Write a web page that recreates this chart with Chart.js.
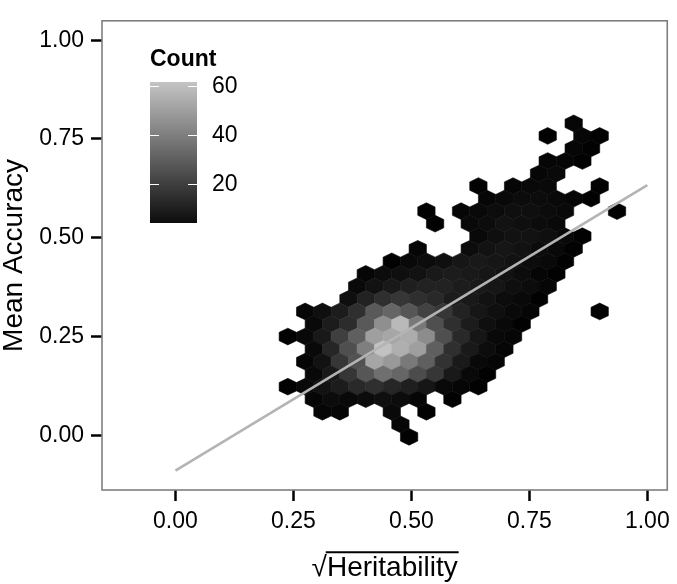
<!DOCTYPE html>
<html><head><meta charset="utf-8">
<script src="https://cdn.jsdelivr.net/npm/chart.js@4/dist/chart.umd.min.js"></script>
<style>html,body{margin:0;padding:0;background:#fff}</style>
</head><body>
<canvas id="c" width="677" height="584" style="width:677px;height:584px;display:block"></canvas>
<script>
// ---- data ----
const xTicks = [0, 0.25, 0.5, 0.75, 1];
const yTicks = [0, 0.25, 0.5, 0.75, 1];
const fitX = [0, 1];
const fitY = [-0.089, 0.633];
const legendTicks = [20, 40, 60];
const countRange = [4, 61.5];
// hex lattice (data units): bin spacing and the centre of bin (row 0, col 0)
const hexWidth = 0.03672, hexHeight = 0.03173;
const hexOriginX = 0.8624, hexOriginY = 0.7577;
// [row, first column, counts per column (0 = empty)]
const hexRows = [
 [-1, 0, [2]],
 [0, -2, [1,0,2,1]],
 [1, 0, [2,1]],
 [2, -2, [2,2,1]],
 [3, -2, [2,3]],
 [4, -6, [1,0,2,3,3,0,0,1]],
 [5, -5, [2,3,4,4,3,2,1]],
 [6, -9, [1,0,2,3,4,5,5,4,3,0,0,1]],
 [7, -8, [1,0,3,4,6,5,4,3]],
 [8, -6, [3,5,6,6,5,3,1]],
 [9, -9, [2,0,0,4,6,7,6,4,3,1]],
 [10, -11, [1,3,4,5,7,8,7,6,4,3,1]],
 [11, -12, [2,4,5,6,8,9,8,7,6,4,2,1]],
 [12, -13, [3,6,8,10,11,11,9,8,7,5,4,2]],
 [13, -13, [5,11,15,17,15,13,9,8,6,4,3,1]],
 [14, -16, [2,5,9,15,28,32,27,21,17,11,7,5,3,2,0,0,0,1]],
 [15, -15, [3,9,14,28,45,58,38,25,15,9,5,3,1]],
 [16, -17, [1,3,8,20,30,50,52,54,44,25,13,7,3,2]],
 [17, -15, [3,12,25,40,61,55,50,30,15,8,4,2]],
 [18, -16, [2,6,17,26,52,48,38,30,16,8,3,2]],
 [19, -15, [3,8,17,27,35,32,24,17,8,3,1]],
 [20, -17, [1,3,6,9,13,15,12,10,7,3,2,1]],
 [21, -15, [2,4,3,4,5,4,2,0,1]],
 [22, -15, [2,2,0,0,3,0,1]],
 [23, -10, [2]],
 [24, -10, [1]]
];

const hexX = [], hexY = [], hexCount = [];
hexRows.forEach(([j, i0, counts]) => counts.forEach((c, k) => {
  if (!c) return;
  const i = i0 + k;
  hexX.push(hexOriginX + i * hexWidth - (j % 2 ? hexWidth / 2 : 0));
  hexY.push(hexOriginY - j * hexHeight);
  hexCount.push(c);
}));

function countColor(c) {
  const t = (c - countRange[0]) / (countRange[1] - countRange[0]);
  let v = Math.round(12 + t * (196 - 12));
  v = Math.max(0, Math.min(255, v));
  return `rgb(${v},${v},${v})`;
}

const FONT = "'Liberation Sans', Arial, Helvetica, sans-serif";

const hexPlugin = {
  id: 'hex',
  beforeDatasetsDraw(chart) {
    const {ctx, scales: {x, y}} = chart;
    const meta = chart.getDatasetMeta(0);
    const hw = Math.abs(x.getPixelForValue(hexWidth) - x.getPixelForValue(0)) / 2;
    const r = Math.abs(y.getPixelForValue(0) - y.getPixelForValue(hexHeight)) * 2 / 3;
    ctx.save();
    ctx.lineWidth = 0.6;
    meta.data.forEach((el, i) => {
      const cx = el.x, cy = el.y;
      ctx.beginPath();
      ctx.moveTo(cx, cy - r);
      ctx.lineTo(cx + hw, cy - r / 2);
      ctx.lineTo(cx + hw, cy + r / 2);
      ctx.lineTo(cx, cy + r);
      ctx.lineTo(cx - hw, cy + r / 2);
      ctx.lineTo(cx - hw, cy - r / 2);
      ctx.closePath();
      const col = countColor(hexCount[i]);
      ctx.fillStyle = col;
      ctx.strokeStyle = col;
      ctx.fill();
      ctx.stroke();
    });
    ctx.restore();
  }
};

const boxPlugin = {
  id: 'box',
  afterDraw(chart) {
    const {ctx, chartArea: a} = chart;
    ctx.save();
    ctx.strokeStyle = '#7f7f7f';
    ctx.lineWidth = 1.6;
    ctx.strokeRect(a.left, a.top, a.right - a.left, a.bottom - a.top);
    ctx.restore();
  }
};

const legendPlugin = {
  id: 'cbar',
  afterDraw(chart) {
    const {ctx} = chart;
    const L = 150, R = 197, T = 82, B = 223;
    const pos = v => B - (v - countRange[0]) / (countRange[1] - countRange[0]) * (B - T);
    ctx.save();
    const g = ctx.createLinearGradient(0, B, 0, T);
    g.addColorStop(0, countColor(countRange[0]));
    g.addColorStop(1, countColor(countRange[1]));
    ctx.fillStyle = g;
    ctx.fillRect(L, T, R - L, B - T);
    ctx.strokeStyle = '#ffffff';
    ctx.lineWidth = 1.2;
    legendTicks.forEach(v => {
      const py = Math.round(pos(v)) + 0.5;
      ctx.beginPath();
      ctx.moveTo(L, py); ctx.lineTo(L + 9, py);
      ctx.moveTo(R - 9, py); ctx.lineTo(R, py);
      ctx.stroke();
    });
    ctx.fillStyle = '#000';
    ctx.font = `23px ${FONT}`;
    ctx.textAlign = 'left';
    ctx.textBaseline = 'middle';
    legendTicks.forEach(v => ctx.fillText(String(v), 212, pos(v) + 1));
    ctx.font = `bold 23px ${FONT}`;
    ctx.textBaseline = 'alphabetic';
    ctx.fillText('Count', 150, 66);
    ctx.restore();
  }
};

const overlinePlugin = {
  id: 'overline',
  afterDraw(chart) {
    const {ctx} = chart;
    const sx = chart.scales.x;
    const size = 28;
    ctx.save();
    ctx.font = `${size}px ${FONT}`;
    const full = ctx.measureText('√Heritability').width;
    const wr = ctx.measureText('√').width;
    const cx = (sx.left + sx.right) / 2;
    const cy = sx.bottom - (size * 1.0) / 2 - 2;
    const x0 = cx - full / 2 + wr * 0.92;
    const x1 = cx + full / 2 + 1;
    const yo = cy - size * 0.56;
    ctx.strokeStyle = '#000';
    ctx.lineWidth = 2;
    ctx.beginPath();
    ctx.moveTo(x0, yo); ctx.lineTo(x1, yo);
    ctx.stroke();
    ctx.restore();
  }
};

const axisCommon = {
  type: 'linear',
  grid: {drawOnChartArea: false, drawTicks: true, tickLength: 11, tickColor: '#000', tickWidth: 2.5},
  border: {display: false},
};

new Chart(document.getElementById('c').getContext('2d'), {
  type: 'scatter',
  data: {
    datasets: [
      {
        label: 'hex',
        data: hexX.map((x, i) => ({x, y: hexY[i]})),
        pointRadius: 1, pointHoverRadius: 0, pointBorderWidth: 0,
        pointBackgroundColor: 'rgba(0,0,0,0)', order: 2
      },
      {
        type: 'line', label: 'fit',
        data: fitX.map((x, i) => ({x, y: fitY[i]})),
        borderColor: '#b4b4b4', borderWidth: 2.6, pointRadius: 0, fill: false, order: 1
      }
    ]
  },
  options: {
    responsive: false, animation: false, events: [],
    layout: {padding: {left: 0, right: 9, top: 5, bottom: 0}},
    plugins: {legend: {display: false}, tooltip: {enabled: false}},
    scales: {
      x: Object.assign({}, axisCommon, {
        min: -0.1556, max: 1.0423,
        afterBuildTicks(s) { s.ticks = xTicks.map(v => ({value: v})); },
        afterFit(s) { s.height = 94; },
        ticks: {color: '#000', font: {family: FONT, size: 23}, padding: 7, maxRotation: 0, autoSkip: false,
          callback: v => Number(v).toFixed(2)},
        title: {display: true, text: '√Heritability', color: '#000', font: {family: FONT, size: 28, lineHeight: 1.0}, padding: {top: 0, bottom: 2}}
      }),
      y: Object.assign({}, axisCommon, {
        min: -0.1383, max: 1.049,
        afterBuildTicks(s) { s.ticks = yTicks.map(v => ({value: v})); },
        afterFit(s) { s.width = 102; },
        ticks: {color: '#000', font: {family: FONT, size: 23}, padding: 7, autoSkip: false,
          callback: v => Number(v).toFixed(2)},
        title: {display: true, text: 'Mean Accuracy', color: '#000', font: {family: FONT, size: 28, lineHeight: 1.0}, padding: {top: 0, bottom: 0}}
      })
    }
  },
  plugins: [hexPlugin, boxPlugin, legendPlugin, overlinePlugin]
});
</script>
</body></html>
